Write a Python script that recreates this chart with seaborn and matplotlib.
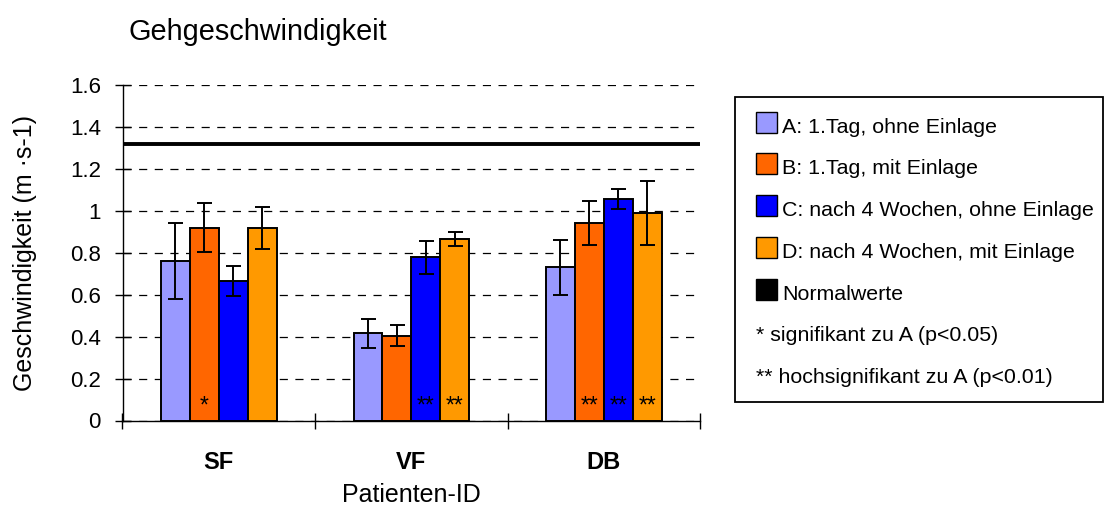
import matplotlib
matplotlib.use("Agg")
import matplotlib.pyplot as plt
from matplotlib.patches import Rectangle
from matplotlib.ticker import FixedLocator, FuncFormatter
import pandas as pd
import seaborn as sns

# ---- data -------------------------------------------------------------
patients = ["SF", "VF", "DB"]
conditions = [
    "A: 1.Tag, ohne Einlage",
    "B: 1.Tag, mit Einlage",
    "C: nach 4 Wochen, ohne Einlage",
    "D: nach 4 Wochen, mit Einlage",
]
speed_a = [0.76, 0.415, 0.73]
speed_b = [0.92, 0.405, 0.94]
speed_c = [0.665, 0.778, 1.056]
speed_d = [0.92, 0.864, 0.99]
sd_a = [0.18, 0.071, 0.13]
sd_b = [0.115, 0.052, 0.105]
sd_c = [0.072, 0.077, 0.048]
sd_d = [0.10, 0.034, 0.153]
sig_a = ["", "", ""]
sig_b = ["*", "", "**"]
sig_c = ["", "**", "**"]
sig_d = ["", "**", "**"]
normal_value = 1.32
y_ticks = [0, 0.2, 0.4, 0.6, 0.8, 1.0, 1.2, 1.4, 1.6]
colors = ["#9999FF", "#FF6600", "#0000FF", "#FF9900"]
normal_label = "Normalwerte"
notes = ["* signifikant zu A (p<0.05)", "** hochsignifikant zu A (p<0.01)"]

speeds = [speed_a, speed_b, speed_c, speed_d]
sds = [sd_a, sd_b, sd_c, sd_d]
sigs = [sig_a, sig_b, sig_c, sig_d]

rows = []
for cond, vals in zip(conditions, speeds):
    for pat, v in zip(patients, vals):
        rows.append({"patient": pat, "condition": cond, "speed": v})
df = pd.DataFrame(rows)

# ---- style ------------------------------------------------------------
sns.set_style("white")
plt.rcParams["font.family"] = ["Liberation Sans", "DejaVu Sans"]

W, H = 1112, 505
fig = plt.figure(figsize=(W / 100, H / 100), dpi=100)
ax_l, ax_r, ax_t, ax_b = 122.5, 700, 85, 420.5
ax = fig.add_axes([ax_l / W, (H - ax_b) / H, (ax_r - ax_l) / W, (ax_b - ax_t) / H])

sns.barplot(
    data=df, x="patient", y="speed", hue="condition",
    order=patients, hue_order=conditions,
    palette=dict(zip(conditions, colors)), saturation=1,
    width=0.6, errorbar=None, edgecolor="black", linewidth=1.4,
    legend=False, ax=ax, zorder=3,
)

# error bars and significance marks on each bar
for container, errs, marks in zip(ax.containers, sds, sigs):
    for bar, e, m in zip(container, errs, marks):
        cx = bar.get_x() + bar.get_width() / 2
        h = bar.get_height()
        ax.errorbar(cx, h, yerr=e, fmt="none", ecolor="black",
                    elinewidth=1.4, capsize=5.4, capthick=1.4, zorder=4)
        if m:
            ax.text(cx, 0.04, m, ha="center", va="baseline",
                    fontsize=16.5, color="black", zorder=5)

# reference line for normal values
ax.axhline(normal_value, color="black", linewidth=2.8, zorder=5)

# axes
ax.set_xlim(-0.5, len(patients) - 0.5)
ax.set_ylim(0, 1.6)
ax.yaxis.set_major_locator(FixedLocator(y_ticks))
ax.yaxis.set_major_formatter(FuncFormatter(lambda v, p: f"{v:g}"))
ax.set_axisbelow(True)
ax.yaxis.grid(True, color="black", linewidth=0.9, linestyle=(0, (6.5, 6)))
ax.xaxis.grid(False)

for s in ["top", "right"]:
    ax.spines[s].set_visible(False)
for s in ["left", "bottom"]:
    ax.spines[s].set_color("black")
    ax.spines[s].set_linewidth(1.0)

ax.tick_params(axis="y", which="major", left=True, direction="inout",
               length=11, width=1.0, color="black", pad=10,
               labelsize=16, labelcolor="black")
ax.set_xticks(range(len(patients)))
ax.set_xticklabels(patients, fontweight="bold")
ax.xaxis.set_minor_locator(FixedLocator([i - 0.5 for i in range(len(patients) + 1)]))
ax.tick_params(axis="x", which="major", bottom=True, length=0, pad=22,
               labelsize=17, labelcolor="black")
ax.tick_params(axis="x", which="minor", bottom=True, direction="inout",
               length=11.5, width=1.0, color="black")

ax.set_xlabel("Patienten-ID", fontsize=18, color="black", va="center")
ax.xaxis.set_label_coords(0.5, (ax_b - 495) / (ax_b - ax_t))
ax.set_ylabel("Geschwindigkeit (m ·s-1)", fontsize=18, color="black", va="center")
ax.yaxis.set_label_coords((25 - ax_l) / (ax_r - ax_l), 0.5)

fig.text(128 / W, 1 - 32 / H, "Gehgeschwindigkeit", fontsize=20.8,
         ha="left", va="center", color="black")

# ---- legend box -------------------------------------------------------
def fx(x):
    return x / W


def fy(y):
    return 1 - y / H


fig.patches.append(Rectangle((fx(735), fy(402)), fx(1103) - fx(735), fy(97) - fy(402),
                             transform=fig.transFigure, facecolor="white",
                             edgecolor="black", linewidth=1.3))
base0, step = 132.7, 41.7
entries = [(c, lab) for c, lab in zip(colors, conditions)] + [("black", normal_label)]
for i, (c, lab) in enumerate(entries):
    b = base0 + i * step
    fig.patches.append(Rectangle((fx(756), fy(b)), fx(777) - fx(756), fy(b - 21) - fy(b),
                                 transform=fig.transFigure, facecolor=c,
                                 edgecolor="black", linewidth=1.0))
    fig.text(fx(782), fy(b), lab, fontsize=15.4, ha="left", va="baseline", color="black")
for j, note in enumerate(notes):
    b = base0 + (len(entries) + j) * step
    fig.text(fx(756), fy(b), note, fontsize=15.4, ha="left", va="baseline", color="black")

fig.savefig("out.png", dpi=100)
